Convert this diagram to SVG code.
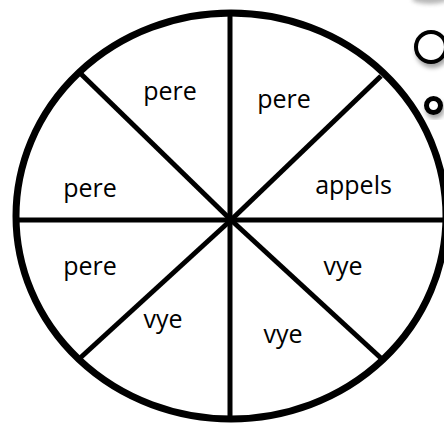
<svg xmlns="http://www.w3.org/2000/svg" width="444" height="423" viewBox="0 0 444 423">
  <defs>
    <filter id="shadow" x="-50%" y="-50%" width="200%" height="200%">
      <feDropShadow dx="1.5" dy="4" stdDeviation="2" flood-color="#000" flood-opacity="0.35"/>
    </filter>
    <filter id="blur" x="-50%" y="-100%" width="200%" height="300%">
      <feGaussianBlur stdDeviation="2"/>
    </filter>
  </defs>
  <style>
    .rim { fill: #fff; stroke: #000; stroke-width: 7; }
    .div { stroke: #000; stroke-width: 5; stroke-linecap: butt; fill: none; }
    .lbl { font-family: "Open Sans", "Noto Sans", sans-serif; font-size: 25px; fill: #000; text-anchor: middle; }
    .bub { fill: #fff; stroke: #000; }
  </style>
  <rect width="444" height="423" fill="#fff"/>

  <g id="bubbles">
    <ellipse cx="430" cy="-1" rx="18" ry="5" fill="#888" opacity="0.6" filter="url(#blur)"/>
    <circle class="bub" cx="431" cy="47" r="15" stroke-width="4" filter="url(#shadow)"/>
    <circle class="bub" cx="433.5" cy="105.5" r="7" stroke-width="5" filter="url(#shadow)"/>
  </g>

  <g id="wheel">
    <ellipse class="rim" cx="231" cy="216" rx="215" ry="203"/>
  </g>

  <g id="connectors">
    <line class="div" x1="230" y1="13" x2="230" y2="419"/>
    <line class="div" x1="15" y1="220" x2="446" y2="220"/>
    <line class="div" x1="231" y1="220" x2="80" y2="73"/>
    <line class="div" x1="231" y1="220" x2="79" y2="359"/>
    <line class="div" x1="231" y1="220" x2="383" y2="360"/>
    <line class="div" x1="231" y1="220" x2="381" y2="76"/>
  </g>

  <g id="seg-top-left"><text class="lbl" x="170" y="100">pere</text></g>
  <g id="seg-top-right"><text class="lbl" x="284" y="108">pere</text></g>
  <g id="seg-left-upper"><text class="lbl" x="90" y="197">pere</text></g>
  <g id="seg-right-upper"><text class="lbl" x="353.5" y="194">appels</text></g>
  <g id="seg-left-lower"><text class="lbl" x="90" y="275">pere</text></g>
  <g id="seg-right-lower"><text class="lbl" x="343" y="275">vye</text></g>
  <g id="seg-bottom-left"><text class="lbl" x="163" y="328">vye</text></g>
  <g id="seg-bottom-right"><text class="lbl" x="283" y="343">vye</text></g>
</svg>
